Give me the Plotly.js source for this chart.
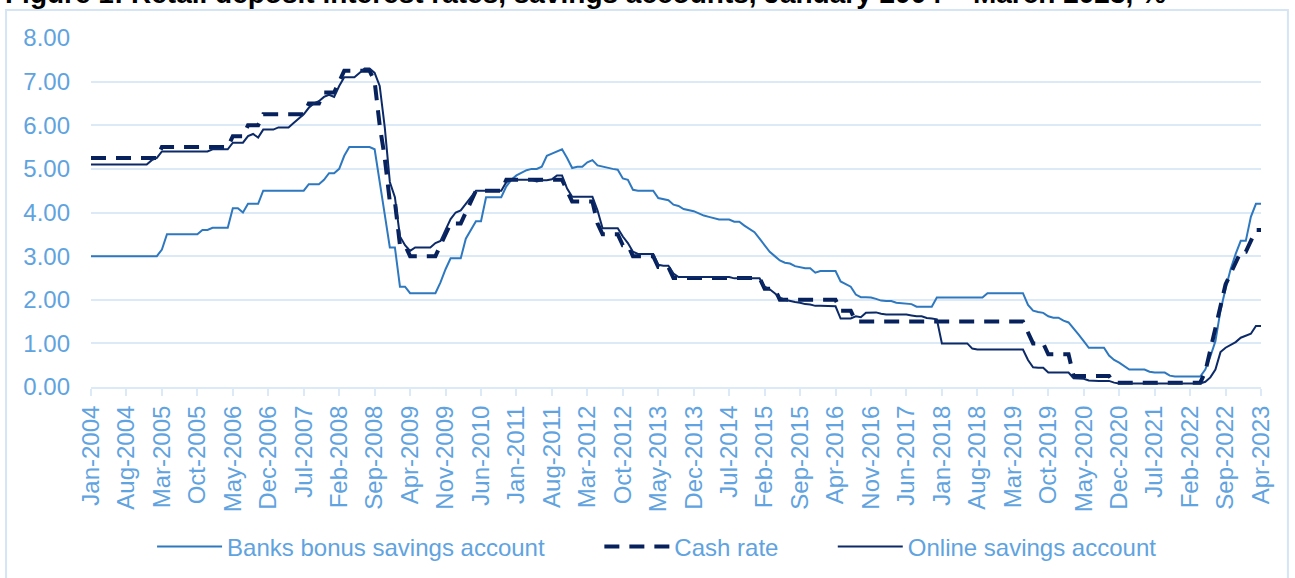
<!DOCTYPE html>
<html><head><meta charset="utf-8">
<script src="https://cdn.plot.ly/plotly-3.0.1.min.js"></script>
<style>html,body{margin:0;padding:0;background:#fff;}#chart{width:1295px;height:578px;}</style>
</head><body><div id="chart"></div>
<script>
// Month categories Jan-2004 .. Apr-2023
const monthNames = ['Jan','Feb','Mar','Apr','May','Jun','Jul','Aug','Sep','Oct','Nov','Dec'];
const months = [];
for (let y = 2004; y <= 2023; y++) {
  for (let m = 0; m < 12; m++) {
    if (y === 2023 && m > 3) break;
    months.push(monthNames[m] + '-' + y);
  }
}

const tickLabels = ['Jan-2004','Aug-2004','Mar-2005','Oct-2005','May-2006','Dec-2006','Jul-2007','Feb-2008',
  'Sep-2008','Apr-2009','Nov-2009','Jun-2010','Jan-2011','Aug-2011','Mar-2012','Oct-2012','May-2013',
  'Dec-2013','Jul-2014','Feb-2015','Sep-2015','Apr-2016','Nov-2016','Jun-2017','Jan-2018','Aug-2018',
  'Mar-2019','Oct-2019','May-2020','Dec-2020','Jul-2021','Feb-2022','Sep-2022','Apr-2023'];

const bankBonus = [
  3.00,3.00,3.00,3.00,3.00,3.00,3.00,3.00,3.00,3.00,3.00,3.00,
  3.00,3.00,3.15,3.50,3.50,3.50,3.50,3.50,3.50,3.50,3.60,3.60,
  3.65,3.65,3.65,3.65,4.10,4.10,4.00,4.20,4.20,4.20,4.50,4.50,
  4.50,4.50,4.50,4.50,4.50,4.50,4.50,4.65,4.65,4.65,4.75,4.90,
  4.90,5.00,5.30,5.50,5.50,5.50,5.50,5.50,5.45,4.65,3.95,3.20,
  3.20,2.30,2.30,2.15,2.15,2.15,2.15,2.15,2.15,2.40,2.70,2.95,
  2.95,2.95,3.40,3.60,3.80,3.80,4.35,4.35,4.35,4.35,4.60,4.75,
  4.85,4.92,4.97,5.00,5.00,5.05,5.30,5.35,5.40,5.45,5.25,5.02,
  5.05,5.05,5.15,5.20,5.08,5.05,5.03,5.00,4.98,4.78,4.75,4.52,
  4.50,4.50,4.50,4.50,4.33,4.30,4.28,4.18,4.15,4.08,4.06,4.03,
  3.98,3.93,3.90,3.87,3.84,3.84,3.84,3.79,3.79,3.70,3.62,3.55,
  3.40,3.25,3.10,3.00,2.90,2.85,2.83,2.77,2.74,2.72,2.72,2.62,
  2.66,2.66,2.66,2.66,2.42,2.35,2.30,2.12,2.06,2.06,2.05,2.02,
  1.98,1.97,1.97,1.93,1.92,1.90,1.90,1.84,1.84,1.84,1.84,2.05,
  2.05,2.05,2.05,2.05,2.05,2.05,2.05,2.05,2.05,2.15,2.15,2.15,
  2.15,2.15,2.15,2.15,2.15,1.88,1.75,1.72,1.70,1.62,1.59,1.59,
  1.52,1.48,1.35,1.20,1.05,0.90,0.90,0.90,0.90,0.72,0.62,0.56,
  0.48,0.40,0.40,0.40,0.40,0.35,0.33,0.33,0.33,0.26,0.24,0.24,
  0.24,0.24,0.24,0.24,0.40,0.70,1.05,1.75,2.25,2.70,3.05,3.35,
  3.35,3.90,4.20,4.20
];

const cashRate = [
  5.25,5.25,5.25,5.25,5.25,5.25,5.25,5.25,5.25,5.25,5.25,5.25,
  5.25,5.25,5.50,5.50,5.50,5.50,5.50,5.50,5.50,5.50,5.50,5.50,
  5.50,5.50,5.50,5.50,5.75,5.75,5.75,6.00,6.00,6.00,6.25,6.25,
  6.25,6.25,6.25,6.25,6.25,6.25,6.25,6.50,6.50,6.50,6.75,6.75,
  6.75,7.00,7.25,7.25,7.25,7.25,7.25,7.25,7.00,6.00,5.25,4.25,
  4.25,3.25,3.25,3.00,3.00,3.00,3.00,3.00,3.00,3.25,3.50,3.75,
  3.75,3.75,4.00,4.25,4.50,4.50,4.50,4.50,4.50,4.50,4.75,4.75,
  4.75,4.75,4.75,4.75,4.75,4.75,4.75,4.75,4.75,4.75,4.50,4.25,
  4.25,4.25,4.25,4.25,3.75,3.50,3.50,3.50,3.50,3.25,3.25,3.00,
  3.00,3.00,3.00,3.00,2.75,2.75,2.75,2.50,2.50,2.50,2.50,2.50,
  2.50,2.50,2.50,2.50,2.50,2.50,2.50,2.50,2.50,2.50,2.50,2.50,
  2.50,2.25,2.25,2.25,2.00,2.00,2.00,2.00,2.00,2.00,2.00,2.00,
  2.00,2.00,2.00,2.00,1.75,1.75,1.75,1.50,1.50,1.50,1.50,1.50,
  1.50,1.50,1.50,1.50,1.50,1.50,1.50,1.50,1.50,1.50,1.50,1.50,
  1.50,1.50,1.50,1.50,1.50,1.50,1.50,1.50,1.50,1.50,1.50,1.50,
  1.50,1.50,1.50,1.50,1.50,1.25,1.00,1.00,1.00,0.75,0.75,0.75,
  0.75,0.75,0.25,0.25,0.25,0.25,0.25,0.25,0.25,0.25,0.10,0.10,
  0.10,0.10,0.10,0.10,0.10,0.10,0.10,0.10,0.10,0.10,0.10,0.10,
  0.10,0.10,0.10,0.10,0.35,0.85,1.35,1.85,2.35,2.60,2.85,3.10,
  3.10,3.35,3.60,3.60
];

const onlineSavings = [
  5.10,5.10,5.10,5.10,5.10,5.10,5.10,5.10,5.10,5.10,5.10,5.10,
  5.20,5.25,5.40,5.40,5.40,5.40,5.40,5.40,5.40,5.40,5.40,5.40,
  5.45,5.45,5.45,5.45,5.60,5.60,5.60,5.75,5.80,5.72,5.90,5.90,
  5.90,5.95,5.95,5.95,6.05,6.15,6.25,6.40,6.50,6.55,6.65,6.70,
  6.65,6.90,7.10,7.10,7.10,7.20,7.30,7.30,7.20,6.90,5.95,4.70,
  4.35,3.45,3.25,3.12,3.20,3.20,3.20,3.20,3.30,3.35,3.60,3.85,
  4.00,4.05,4.20,4.35,4.50,4.50,4.50,4.50,4.50,4.50,4.70,4.75,
  4.75,4.75,4.75,4.75,4.71,4.74,4.74,4.76,4.85,4.85,4.55,4.36,
  4.36,4.36,4.36,4.36,4.05,3.64,3.64,3.64,3.64,3.45,3.30,3.10,
  3.05,3.05,3.05,3.05,2.80,2.78,2.78,2.60,2.52,2.52,2.52,2.52,
  2.52,2.52,2.52,2.52,2.52,2.52,2.52,2.49,2.49,2.49,2.49,2.49,
  2.49,2.30,2.24,2.15,2.05,2.00,1.97,1.95,1.93,1.90,1.89,1.86,
  1.86,1.86,1.86,1.85,1.57,1.57,1.57,1.62,1.60,1.70,1.71,1.71,
  1.68,1.66,1.66,1.66,1.66,1.66,1.64,1.62,1.62,1.58,1.57,1.55,
  1.00,1.00,1.00,1.00,1.00,1.00,0.88,0.86,0.86,0.86,0.86,0.86,
  0.86,0.86,0.86,0.86,0.86,0.62,0.45,0.44,0.44,0.33,0.33,0.33,
  0.33,0.33,0.20,0.19,0.19,0.15,0.14,0.14,0.14,0.14,0.10,0.08,
  0.08,0.08,0.08,0.08,0.08,0.08,0.08,0.08,0.08,0.08,0.08,0.08,
  0.08,0.08,0.08,0.08,0.12,0.22,0.40,0.80,0.90,0.97,1.03,1.13,
  1.17,1.22,1.40,1.40
];

const seriesNames = ['Banks bonus savings account', 'Cash rate', 'Online savings account'];
const titleText = 'Figure 1: Retail deposit interest rates, savings accounts, January 2004 – March 2023, %';

const txtColor = '#5fa3e0';
const gridColor = '#dce9f6';
const FONT = 'Liberation Sans, Arial, sans-serif';

const traces = [
  {x: months, y: bankBonus, name: seriesNames[0], type: 'scatter', mode: 'lines',
   line: {color: '#2e78c0', width: 2}, legend: 'legend', hoverinfo: 'skip'},
  {x: months, y: cashRate, name: seriesNames[1], type: 'scatter', mode: 'lines',
   line: {color: '#06215c', width: 4, dash: '15px,10px'}, legend: 'legend2', hoverinfo: 'skip'},
  {x: months, y: onlineSavings, name: seriesNames[2], type: 'scatter', mode: 'lines',
   line: {color: '#0c2a68', width: 2}, legend: 'legend3', hoverinfo: 'skip'}
];

const legBase = {orientation: 'h', y: -0.4585, yanchor: 'middle', xanchor: 'left',
  bgcolor: 'rgba(0,0,0,0)', borderwidth: 0, itemwidth: 65,
  font: {family: FONT, size: 24, color: txtColor}};

const layout = {
  width: 1295, height: 578,
  margin: {l: 91, r: 34, t: 38, b: 191, pad: 0, autoexpand: false},
  paper_bgcolor: '#ffffff', plot_bgcolor: '#ffffff',
  font: {family: FONT, size: 24, color: txtColor},
  showlegend: true,
  xaxis: {type: 'category', range: [0, months.length - 1], tickmode: 'array',
    tickvals: tickLabels, ticktext: tickLabels, tickangle: -90,
    ticks: 'outside', ticklen: 7, tickwidth: 2, tickcolor: gridColor,
    showline: true, linecolor: gridColor, linewidth: 2, showgrid: false, zeroline: false,
    automargin: false, fixedrange: true, tickfont: {family: FONT, size: 24, color: txtColor}},
  yaxis: {range: [0, 8], dtick: 1, tick0: 0, tickformat: '.2f', showgrid: true,
    gridcolor: gridColor, gridwidth: 2, zeroline: false, showline: false, ticks: '',
    ticklabelstandoff: 20, automargin: false, fixedrange: true,
    tickfont: {family: FONT, size: 24, color: txtColor}},
  legend: Object.assign({}, legBase, {x: 0.0522}),
  legend2: Object.assign({}, legBase, {x: 0.4345}),
  legend3: Object.assign({}, legBase, {x: 0.6340}),
  shapes: [{type: 'rect', xref: 'paper', yref: 'paper', x0: -0.0726, x1: 1.0230, y0: -0.62, y1: 1.0802,
    line: {color: '#d6e5f4', width: 2}, fillcolor: 'rgba(0,0,0,0)', layer: 'below'}],
  annotations: [{xref: 'paper', yref: 'paper', x: -0.0752, xanchor: 'left', y: 1.1275, yanchor: 'middle',
    text: '<b>' + titleText + '</b>', showarrow: false,
    font: {family: FONT, size: 28, color: '#000000'}}]
};

Plotly.newPlot('chart', traces, layout, {displayModeBar: false, staticPlot: true});
</script>
</body></html>
